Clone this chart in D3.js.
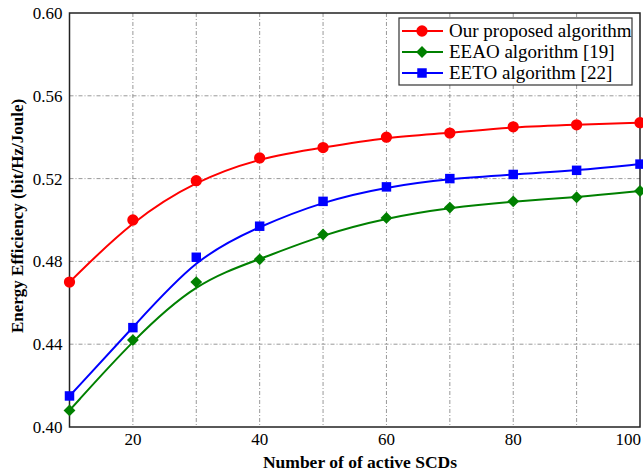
<html lang="en">
<head>
<meta charset="UTF-8">
<title>Energy Efficiency vs SCDs</title>
<script src="https://d3js.org/d3.v7.min.js"></script>
<style>
  body { margin: 0; background: #fff; }
</style>
</head>
<body>
<svg width="643" height="476" font-family="'Liberation Serif', 'Times New Roman', serif"></svg>
<script>
    // data
    const scds = [10, 20, 30, 40, 50, 60, 70, 80, 90, 100];
    const proposed = [0.470, 0.500, 0.519, 0.530, 0.535, 0.540, 0.542, 0.545, 0.546, 0.547];
    const eeao = [0.408, 0.442, 0.470, 0.481, 0.493, 0.501, 0.506, 0.509, 0.511, 0.514];
    const eeto = [0.415, 0.448, 0.482, 0.497, 0.509, 0.516, 0.520, 0.522, 0.524, 0.527];
    const xTicks = [20, 40, 60, 80, 100];
    const yTicks = [0.40, 0.44, 0.48, 0.52, 0.56, 0.60];
    const seriesNames = ["Our proposed algorithm", "EEAO algorithm [19]", "EETO algorithm [22]"];

    const svg = d3.select("svg");
    const plotLeft = 69.5, plotRight = 640, plotTop = 13, plotBottom = 427;

    const x = d3.scaleLinear().domain([10, 100]).range([plotLeft, plotRight]);
    const y = d3.scaleLinear().domain([0.40, 0.60]).range([plotBottom, plotTop]);

    // grid
    const grid = svg.append("g")
        .attr("stroke", "#999")
        .attr("stroke-width", 1)
        .attr("stroke-dasharray", "4,2,1,2");
    grid.selectAll(".vg").data(d3.range(20, 100, 10)).enter()
        .append("line")
        .attr("x1", d => x(d)).attr("x2", d => x(d))
        .attr("y1", plotTop).attr("y2", plotBottom);
    grid.selectAll(".hg").data(yTicks.slice(1, -1)).enter()
        .append("line")
        .attr("x1", plotLeft).attr("x2", plotRight)
        .attr("y1", d => y(d)).attr("y2", d => y(d));

    // frame
    svg.append("rect")
        .attr("x", plotLeft).attr("y", plotTop)
        .attr("width", plotRight - plotLeft).attr("height", plotBottom - plotTop)
        .attr("fill", "none").attr("stroke", "#222").attr("stroke-width", 1.5);

    // tick labels (last one sits flush with the right edge)
    svg.append("g").selectAll("text").data(xTicks).enter()
        .append("text")
        .attr("x", d => d === 100 ? 641 : x(d)).attr("y", plotBottom + 18)
        .attr("text-anchor", d => d === 100 ? "end" : "middle")
        .attr("font-size", 17)
        .text(d => d);
    svg.append("g").selectAll("text").data(yTicks).enter()
        .append("text")
        .attr("x", plotLeft - 7).attr("y", d => y(d) + 6)
        .attr("text-anchor", "end")
        .attr("font-size", 17)
        .text(d => d.toFixed(2));

    // axis titles
    svg.append("text")
        .attr("x", 360).attr("y", 468)
        .attr("text-anchor", "middle")
        .attr("font-size", 17.5).attr("font-weight", "bold")
        .text("Number of of active SCDs");
    svg.append("text")
        .attr("transform", "translate(23,216) rotate(-90)")
        .attr("text-anchor", "middle")
        .attr("font-size", 17).attr("font-weight", "bold")
        .text("Energy Efficiency (bit/Hz/Joule)");

    const series = [
        { name: seriesNames[0], values: proposed, color: "#ff0000", shape: d3.symbolCircle, size: 100, rot: 0 },
        { name: seriesNames[1], values: eeao, color: "#008000", shape: d3.symbolSquare, size: 70, rot: 45 },
        { name: seriesNames[2], values: eeto, color: "#0000ff", shape: d3.symbolSquare, size: 90, rot: 0 }
    ];

    const line = d3.line()
        .x((d, i) => x(scds[i]))
        .y(d => y(d))
        .curve(d3.curveBasis);

    series.forEach(s => {
        svg.append("path")
            .attr("d", line(s.values))
            .attr("fill", "none")
            .attr("stroke", s.color)
            .attr("stroke-width", 2);
        svg.append("g").selectAll("path").data(s.values).enter()
            .append("path")
            .attr("transform", (d, i) => "translate(" + x(scds[i]) + "," + y(d) + ") rotate(" + s.rot + ")")
            .attr("d", d3.symbol().type(s.shape).size(s.size))
            .attr("fill", s.color);
    });

    // legend
    const lg = svg.append("g");
    lg.append("rect")
        .attr("x", 399).attr("y", 18).attr("width", 233).attr("height", 67)
        .attr("fill", "#fff").attr("stroke", "#333").attr("stroke-width", 1.2);
    series.forEach((s, i) => {
        const ly = 31 + i * 21;
        lg.append("line")
            .attr("x1", 402).attr("x2", 443).attr("y1", ly).attr("y2", ly)
            .attr("stroke", s.color).attr("stroke-width", 2);
        lg.append("path")
            .attr("transform", "translate(422," + ly + ") rotate(" + s.rot + ")")
            .attr("d", d3.symbol().type(s.shape).size(s.size))
            .attr("fill", s.color);
        lg.append("text")
            .attr("x", 449).attr("y", ly + 6)
            .attr("font-size", 19)
            .text(s.name);
    });
</script>
</body>
</html>
